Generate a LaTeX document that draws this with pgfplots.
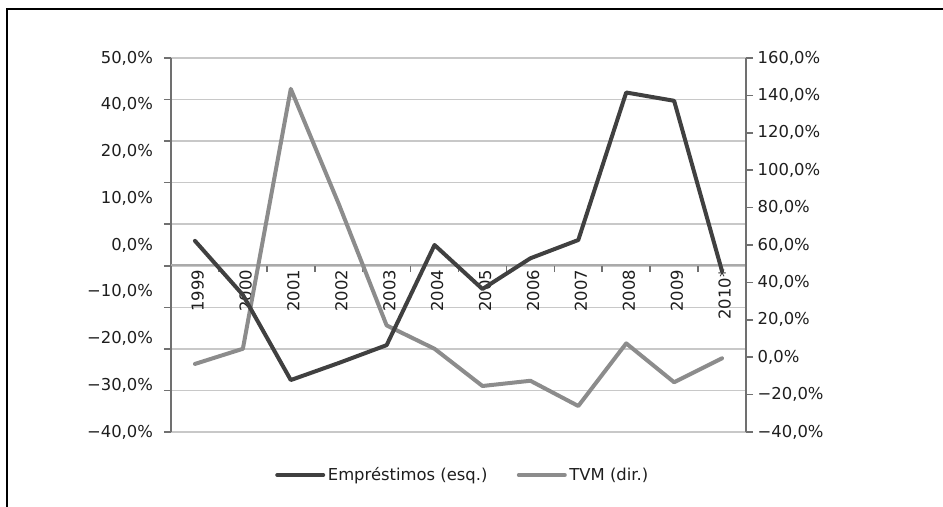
\documentclass[border=0pt]{standalone}
\usepackage{fontspec}
\setmainfont{DejaVu Sans}
\usepackage{pgfplots}
\pgfplotsset{compat=1.18}
\definecolor{dark}{HTML}{404040}
\definecolor{light}{HTML}{8C8C8C}
\definecolor{gridc}{HTML}{C8C8C8}
\definecolor{axisc}{HTML}{707070}
\definecolor{txt}{HTML}{1E1E1E}
% 1px of the reference = 0.75pt
\newcommand{\lblfont}{\fontsize{12.3}{14}\selectfont}
\pgfplotsset{
  base/.style={scale only axis, width=431.25pt, height=280.5pt,
    xmin=0, xmax=12, axis x line=none,
    tick align=outside, major tick length=5.25pt,
    tick style={axisc, line width=1.2pt},
    axis line style={axisc, line width=1.5pt},
    every tick label/.append style={font=\lblfont, text=txt},
  },
  serie/.style={line width=3pt, line join=round, line cap=round},
}
\begin{document}
\begin{tikzpicture}
\useasboundingbox (-128.25pt,-56.25pt) rectangle (579pt,324pt);
\draw[black, line width=1.1pt] (-123pt,-56.25pt) -- (-123pt,317.25pt) -- (579pt,317.25pt);

% grid and left axis line
\begin{axis}[base, ymin=-40, ymax=50, ytick={-40,-30,...,50}, yticklabels={},
  axis y line*=left, ymajorgrids, major grid style={gridc, line width=1.2pt}]
\addplot[draw=none] coordinates {(0,0)};
\end{axis}

% category axis at left value 0
\begin{axis}[scale only axis, width=431.25pt, height=10pt, at={(0pt,125.25pt)},
  xmin=0, xmax=12, ymin=0, ymax=1, axis y line=none, axis x line*=bottom,
  x axis line style={gridc!85!black, line width=1.2pt},
  xtick={0.5,1.5,...,11.5},
  xticklabels={1999,2000,2001,2002,2003,2004,2005,2006,2007,2008,2009,2010*},
  major tick length=0pt, minor xtick={1,2,...,11}, minor tick length=5.25pt,
  tick align=outside, tick style={axisc, line width=1.2pt},
  xticklabel style={rotate=90, anchor=east, font=\lblfont, text=txt, yshift=-2pt}]
\addplot[draw=none] coordinates {(0,0)};
\end{axis}

% TVM, right axis
\begin{axis}[base, ymin=-40, ymax=160, ytick={-40,-20,...,160},
  yticklabels={{−40,0\%},{−20,0\%},{0,0\%},{20,0\%},{40,0\%},{60,0\%},{80,0\%},{100,0\%},{120,0\%},{140,0\%},{160,0\%}},
  axis y line*=right]
\addplot[light, serie] coordinates {
(0.5,-3.6) (1.5,4.5) (2.5,143.5) (3.5,82) (4.5,17) (5.5,4.5)
(6.5,-15.4) (7.5,-12.6) (8.5,-26.1) (9.5,7.4) (10.5,-13.4) (11.5,-0.6)};
\end{axis}

% Emprestimos, left labels, legend
\begin{axis}[base, ymin=-40, ymax=50, axis y line*=left, y axis line style={draw=none},
  ytick={-40,-28.75,-17.5,-6.25,5,16.25,27.5,38.75,50},
  yticklabels={{−40,0\%},{−30,0\%},{−20,0\%},{−10,0\%},{0,0\%},{10,0\%},{20,0\%},{40,0\%},{50,0\%}},
  major tick length=0pt, yticklabel style={xshift=-10pt},
  legend style={at={(0.508,-0.115)}, anchor=center, draw=none, fill=none,
    legend columns=2, font=\lblfont, text=txt,
    /tikz/every even column/.append style={column sep=20pt}},
  legend image code/.code={\draw[#1] (0pt,0pt) -- (34.5pt,0pt);}]
\addplot[dark, serie] coordinates {
(0.5,6.0) (1.5,-7.0) (2.5,-27.5) (3.5,-23.4) (4.5,-19.1) (5.5,5.0)
(6.5,-5.6) (7.5,1.8) (8.5,6.2) (9.5,41.7) (10.5,39.7) (11.5,-1.3)};
\addlegendimage{light, serie}
\legend{Empréstimos (esq.), TVM (dir.)}
\end{axis}
\end{tikzpicture}
\end{document}
